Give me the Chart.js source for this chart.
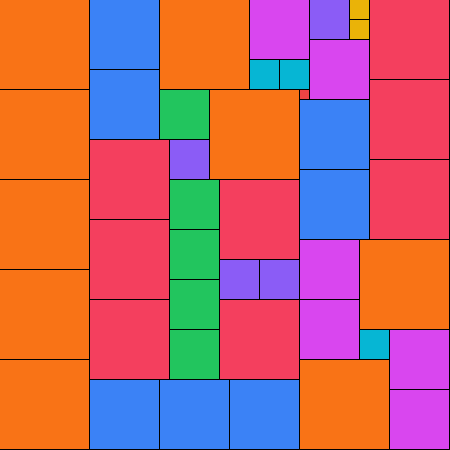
<!DOCTYPE html>
<html>
<head>
<meta charset="utf-8">
<style>
  html, body { margin: 0; padding: 0; background: #fff; overflow: hidden; }
  #wrap { width: 450px; height: 450px; }
</style>
<script src="https://cdn.jsdelivr.net/npm/chart.js@4"></script>
</head>
<body>
<div id="wrap"><canvas id="packChart" width="450" height="450"></canvas></div>
<script>
// square packing on a 45 x 45 grid, top-left corner + side length
const cellX = [0, 0, 0, 0, 0, 16, 21, 36, 30,
               9, 9, 9, 37, 37, 37, 22, 22,
               9, 9, 9, 16, 23, 30, 30,
               25, 31, 30, 30, 39, 39,
               16, 17, 17, 17, 17,
               17, 31, 22, 26,
               25, 28, 36,
               35, 35,
               30];
const cellY = [0, 9, 18, 27, 36, 0, 9, 24, 36,
               14, 22, 30, 0, 8, 16, 18, 30,
               0, 7, 38, 38, 38, 10, 17,
               0, 4, 24, 30, 33, 39,
               9, 18, 23, 28, 33,
               14, 0, 26, 26,
               6, 6, 33,
               0, 2,
               9];
const cellSize = [9, 9, 9, 9, 9, 9, 9, 9, 9,
                  8, 8, 8, 8, 8, 8, 8, 8,
                  7, 7, 7, 7, 7, 7, 7,
                  6, 6, 6, 6, 6, 6,
                  5, 5, 5, 5, 5,
                  4, 4, 4, 4,
                  3, 3, 3,
                  2, 2,
                  1];

// colour by side length
const sizeColors = {
    9: '#f97316',
    8: '#f43f5e',
    7: '#3b82f6',
    6: '#d946ef',
    5: '#22c55e',
    4: '#8b5cf6',
    3: '#06b6d4',
    2: '#eab308',
    1: '#ef4444'
};

const GRID = 45;

const datasets = cellX.map((x, i) => {
    const y = cellY[i];
    const s = cellSize[i];
    return {
        data: [
            { x: x, y: y },
            { x: x + s, y: y },
            { x: x + s, y: y + s },
            { x: x, y: y + s },
            { x: x, y: y }
        ],
        showLine: true,
        fill: 'shape',
        backgroundColor: sizeColors[s],
        borderColor: '#000',
        borderWidth: 1,
        pointRadius: 0,
        pointHoverRadius: 0,
        tension: 0
    };
});

const ctx = document.getElementById('packChart').getContext('2d');

new Chart(ctx, {
    type: 'scatter',
    data: { datasets: datasets },
    options: {
        responsive: false,
        animation: false,
        events: [],
        layout: { padding: 0 },
        scales: {
            x: { type: 'linear', display: false, min: 0.05, max: GRID + 0.05 },
            y: { type: 'linear', display: false, reverse: true, min: 0.05, max: GRID + 0.05 }
        },
        plugins: {
            legend: { display: false },
            tooltip: { enabled: false }
        }
    }
});
</script>
</body>
</html>
